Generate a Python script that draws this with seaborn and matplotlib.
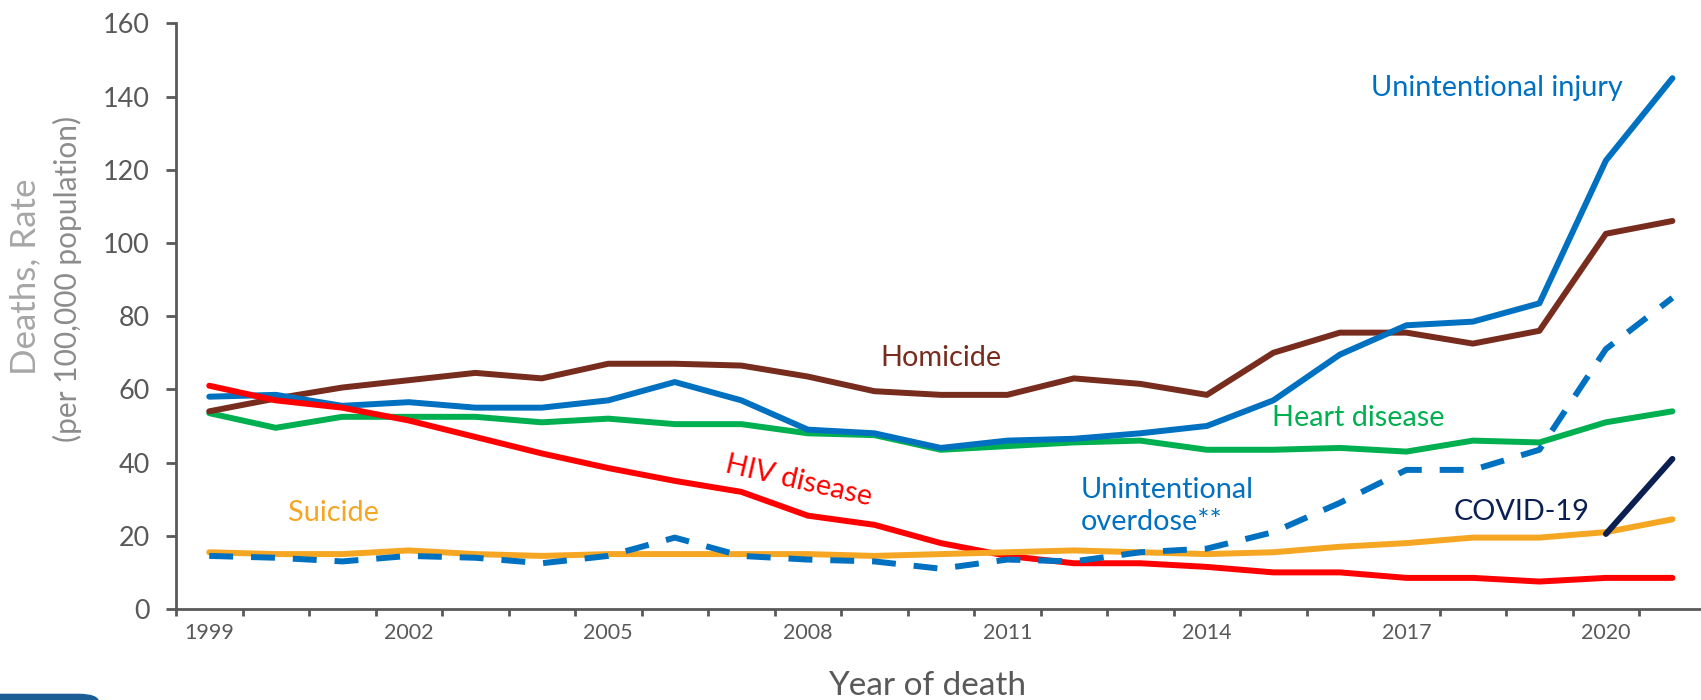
import numpy as np
import pandas as pd
import matplotlib
matplotlib.use("Agg")
import matplotlib.pyplot as plt
from matplotlib.patches import FancyBboxPatch
import seaborn as sns

# Data (deaths per 100,000 population)
years = list(range(1999, 2022))
injury = [58, 58.5, 55.5, 56.5, 55, 55, 57, 62, 57, 49, 48, 44, 46, 46.5, 48, 50,
          57, 69.5, 77.5, 78.5, 83.5, 122.5, 145]
homicide = [54, 57.5, 60.5, 62.5, 64.5, 63, 67, 67, 66.5, 63.5, 59.5, 58.5, 58.5, 63,
            61.5, 58.5, 70, 75.5, 75.5, 72.5, 76, 102.5, 106]
heart = [53.5, 49.5, 52.5, 52.5, 52.5, 51, 52, 50.5, 50.5, 48, 47.5, 43.5, 44.5, 45.5,
         46, 43.5, 43.5, 44, 43, 46, 45.5, 51, 54]
hiv = [61, 57, 55, 51.5, 47, 42.5, 38.5, 35, 32, 25.5, 23, 18, 14.5, 12.5, 12.5, 11.5,
       10, 10, 8.5, 8.5, 7.5, 8.5, 8.5]
suicide = [15.5, 15, 15, 16, 15, 14.5, 15, 15, 15, 15, 14.5, 15, 15.5, 16, 15.5, 15,
           15.5, 17, 18, 19.5, 19.5, 21, 24.5]
overdose = [14.5, 14, 13, 14.5, 14, 12.5, 14.5, 19.5, 14.5, 13.5, 13, 11, 13.5, 13,
            15.5, 16.5, 21, 29, 38, 38, 43.5, 71, 85]
covid_years = [2020, 2021]
covid = [20.5, 41]

label_years = [1999, 2002, 2005, 2008, 2011, 2014, 2017, 2020]

# Colours
c_blue = "#0070C0"
c_brown = "#772C1E"
c_green = "#00B050"
c_red = "#FF0000"
c_orange = "#F5A623"
c_navy = "#0B1F52"
c_axis = "#595959"

sns.set_theme(style="white")
plt.rcParams['font.family'] = ['Lato', 'DejaVu Sans']

fig = plt.figure(figsize=(17.01, 7.0), dpi=100)
renderer = fig.canvas.get_renderer()


def fit_size(txt, target_px):
    # font size (pt) that gives the text the wanted width in pixels
    t = fig.text(0, 0, txt, fontsize=20)
    w = t.get_window_extent(renderer=renderer).width
    t.remove()
    return 20 * target_px / w


ax = fig.add_axes([176 / 1701, 91 / 700, 1 - 176 / 1701, (609 - 23.3) / 700])

lw = 4.3
sns.lineplot(x=years, y=heart, color=c_green, linewidth=lw, ax=ax)
sns.lineplot(x=years, y=homicide, color=c_brown, linewidth=lw, ax=ax)
sns.lineplot(x=years, y=injury, color=c_blue, linewidth=lw, ax=ax)
sns.lineplot(x=years, y=hiv, color=c_red, linewidth=lw, ax=ax)
sns.lineplot(x=years, y=suicide, color=c_orange, linewidth=lw, ax=ax)
sns.lineplot(x=years, y=overdose, color=c_blue, linewidth=lw,
             linestyle=(0, (4, 3)), ax=ax)
sns.lineplot(x=covid_years, y=covid, color=c_navy, linewidth=lw, ax=ax)
for line in ax.get_lines():
    line.set_solid_capstyle("round")
    line.set_dash_capstyle("butt")

ax.set_xlim(1998.5, 2021.43)
ax.set_ylim(0, 160)

# spines
for s in ["top", "right"]:
    ax.spines[s].set_visible(False)
for s in ["left", "bottom"]:
    ax.spines[s].set_color(c_axis)
    ax.spines[s].set_linewidth(2.0)

ax.set_yticks(np.arange(0, 161, 20))
ax.tick_params(axis="y", which="major", direction="out", length=7, width=2.0,
               color=c_axis, labelcolor=c_axis, labelsize=fit_size("140", 47),
               pad=12, left=True)

ax.set_xticks(label_years)
ax.set_xticklabels([str(y) for y in label_years])
ax.set_xticks(np.arange(1998.5, 2021.0, 1), minor=True)
ax.tick_params(axis="x", which="major", length=0, labelcolor=c_axis,
               labelsize=fit_size("1999", 50), pad=10)
ax.tick_params(axis="x", which="minor", direction="out", length=5, width=2.0,
               color=c_axis, bottom=True)
ax.set_xlabel("")
ax.set_ylabel("")
ax.grid(False)

# axis titles
fig.text(927 / 1701, 1 - 686 / 700, "Year of death", ha="center", va="center",
         fontsize=24, color=c_axis)
fig.text(25 / 1701, 1 - 277 / 700, "Deaths, Rate", ha="center", va="center",
         rotation=90, fontsize=fit_size("Deaths, Rate", 197), color="#A6A6A6")
fig.text(67 / 1701, 1 - 279 / 700, "(per 100,000 population)", ha="center",
         va="center", rotation=90, fontsize=fit_size("(per 100,000 population)", 326),
         color="#8C8C8C")

# series labels
fs = fit_size("Unintentional", 174)
ax.text(2020.26, 142.3, "Unintentional injury", color=c_blue, fontsize=fs,
        ha="right", va="center")
ax.text(2010.0, 68.6, "Homicide", color=c_brown, fontsize=fs, ha="center", va="center")
ax.text(2016.27, 52.2, "Heart disease", color=c_green, fontsize=fs, ha="center",
        va="center")
ax.text(2007.87, 35.0, "HIV disease", color=c_red, fontsize=fs, ha="center",
        va="center", rotation=-13, rotation_mode="anchor")
ax.text(2012.1, 28.2, "Unintentional\noverdose**", color=c_blue, fontsize=fs,
        ha="left", va="center", linespacing=1.3)
ax.text(2000.86, 26.2, "Suicide", color=c_orange, fontsize=fs, ha="center",
        va="center")
ax.text(2018.73, 26.5, "COVID-19", color=c_navy, fontsize=fs, ha="center",
        va="center")

# slide decoration cut off at bottom-left
fig.patches.append(FancyBboxPatch((-0.02, -0.03), 0.078, 0.038,
                                  boxstyle="round,pad=0,rounding_size=0.012",
                                  transform=fig.transFigure, color="#1B5E96",
                                  zorder=5))

fig.savefig("out.png", dpi=100)
